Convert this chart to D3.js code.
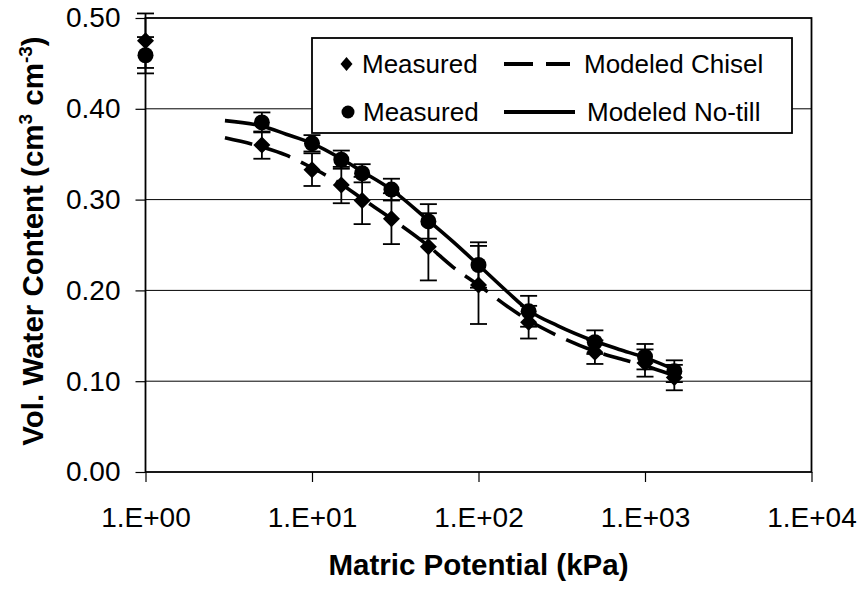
<!DOCTYPE html>
<html>
<head>
<meta charset="utf-8">
<script src="https://cdn.jsdelivr.net/npm/d3@7"></script>
<style>
  html, body { margin: 0; padding: 0; background: #fff; }
  svg { display: block; font-family: Arial, "Liberation Sans", sans-serif; }
</style>
</head>
<body>
<svg id="chart" width="863" height="589"></svg>
<script>
// ---- data ----
const potentials = [1, 5, 10, 15, 20, 30, 50, 100, 200, 500, 1000, 1500];
const chiselMeasured = [0.475, 0.360, 0.333, 0.316, 0.299, 0.279, 0.248, 0.206, 0.165, 0.132, 0.120, 0.104];
const chiselError    = [0.030, 0.015, 0.018, 0.020, 0.026, 0.028, 0.037, 0.043, 0.018, 0.013, 0.015, 0.014];
const notillMeasured = [0.459, 0.385, 0.362, 0.344, 0.329, 0.311, 0.276, 0.228, 0.177, 0.143, 0.127, 0.111];
const notillError    = [0.020, 0.011, 0.009, 0.010, 0.010, 0.012, 0.019, 0.025, 0.017, 0.013, 0.014, 0.012];

const modelPotentials = [3, 5, 7, 10, 15, 20, 30, 50, 70, 100, 150, 200, 300, 500, 700, 1000, 1500];
const chiselModel = [0.368, 0.358, 0.349, 0.335, 0.317, 0.301, 0.279, 0.249, 0.226, 0.206, 0.182, 0.167, 0.150, 0.133, 0.125, 0.117, 0.106];
const notillModel = [0.387, 0.381, 0.372, 0.362, 0.345, 0.331, 0.311, 0.277, 0.254, 0.228, 0.198, 0.178, 0.161, 0.144, 0.135, 0.126, 0.113];

const xTicks = [1, 10, 100, 1000, 10000];
const xTickLabels = ["1.E+00", "1.E+01", "1.E+02", "1.E+03", "1.E+04"];
const yTicks = [0, 0.1, 0.2, 0.3, 0.4, 0.5];
const yTickLabels = ["0.00", "0.10", "0.20", "0.30", "0.40", "0.50"];

(function () {
// ---- layout ----
const svg = d3.select("#chart");
const pL = 145.5, pR = 811.5, pT = 18, pB = 472;
const x = d3.scaleLog().domain([1, 10000]).range([pL, pR]);
const y = d3.scaleLinear().domain([0, 0.5]).range([pB, pT]);

// grid lines
svg.append("g").selectAll("line")
  .data(yTicks.filter(v => v > 0 && v < 0.5))
  .join("line")
  .attr("x1", pL).attr("x2", pR)
  .attr("y1", d => y(d)).attr("y2", d => y(d))
  .attr("stroke", "#000").attr("stroke-width", 1);

// plot frame
svg.append("rect")
  .attr("x", pL).attr("y", pT)
  .attr("width", pR - pL).attr("height", pB - pT)
  .attr("fill", "none").attr("stroke", "#000").attr("stroke-width", 1.8);

// axes
const yAxis = d3.axisLeft(y).tickValues(yTicks)
  .tickFormat((d, i) => yTickLabels[i]).tickSize(10).tickPadding(15);
const gy = svg.append("g").attr("transform", `translate(${pL},0)`).call(yAxis);
gy.select(".domain").remove();
gy.selectAll("line").attr("stroke", "#000").attr("stroke-width", 1.2);
gy.selectAll("text").attr("font-size", 28).attr("font-family", "Arial, 'Liberation Sans', sans-serif").attr("fill", "#000");

const xAxis = d3.axisBottom(x).tickValues(xTicks)
  .tickFormat((d, i) => xTickLabels[i]).tickSize(10).tickPadding(25);
const gx = svg.append("g").attr("transform", `translate(0,${pB})`).call(xAxis);
gx.select(".domain").remove();
gx.selectAll("line").attr("stroke", "#000").attr("stroke-width", 1.2);
gx.selectAll("text").attr("font-size", 28).attr("font-family", "Arial, 'Liberation Sans', sans-serif").attr("fill", "#000");

// axis titles
svg.append("text")
  .attr("x", (pL + pR) / 2).attr("y", 575)
  .attr("text-anchor", "middle")
  .attr("font-size", 29.5).attr("font-weight", "bold")
  .text("Matric Potential (kPa)");

const yt = svg.append("text")
  .attr("transform", "translate(43,241) rotate(-90)")
  .attr("text-anchor", "middle")
  .attr("font-size", 29.5).attr("font-weight", "bold");
yt.append("tspan").text("Vol. Water Content (cm");
yt.append("tspan").attr("dy", -11).attr("font-size", 19).text("3");
yt.append("tspan").attr("dy", 11).text(" cm");
yt.append("tspan").attr("dy", -11).attr("font-size", 19).text("-3");
yt.append("tspan").attr("dy", 11).text(")");

// model lines
const lineGen = d3.line().x(d => x(d[0])).y(d => y(d[1])).curve(d3.curveMonotoneX);
svg.append("path")
  .attr("d", lineGen(modelPotentials.map((p, i) => [p, chiselModel[i]])))
  .attr("fill", "none").attr("stroke", "#000").attr("stroke-width", 3.6)
  .attr("stroke-dasharray", "28,12");
svg.append("path")
  .attr("d", lineGen(modelPotentials.map((p, i) => [p, notillModel[i]])))
  .attr("fill", "none").attr("stroke", "#000").attr("stroke-width", 3.6);

// error bars
function errorBars(vals, errs) {
  const g = svg.append("g").attr("stroke", "#000").attr("stroke-width", 1.8);
  potentials.forEach((p, i) => {
    const cx = x(p), lo = y(vals[i] - errs[i]), hi = y(vals[i] + errs[i]);
    g.append("line").attr("x1", cx).attr("x2", cx).attr("y1", lo).attr("y2", hi);
    g.append("line").attr("x1", cx - 8.5).attr("x2", cx + 8.5).attr("y1", lo).attr("y2", lo);
    g.append("line").attr("x1", cx - 8.5).attr("x2", cx + 8.5).attr("y1", hi).attr("y2", hi);
  });
}
errorBars(chiselMeasured, chiselError);
errorBars(notillMeasured, notillError);

// markers
const diamond = (cx, cy, hw, hh) => `M${cx},${cy - hh}L${cx + hw},${cy}L${cx},${cy + hh}L${cx - hw},${cy}Z`;
svg.append("g").selectAll("path")
  .data(potentials.map((p, i) => [p, chiselMeasured[i]]))
  .join("path")
  .attr("d", d => diamond(x(d[0]), y(d[1]), 8.5, 8.5))
  .attr("fill", "#000");
svg.append("g").selectAll("circle")
  .data(potentials.map((p, i) => [p, notillMeasured[i]]))
  .join("circle")
  .attr("cx", d => x(d[0])).attr("cy", d => y(d[1])).attr("r", 8)
  .attr("fill", "#000");

// legend
const lg = svg.append("g");
lg.append("rect").attr("x", 312).attr("y", 38).attr("width", 480).attr("height", 95)
  .attr("fill", "#fff").attr("stroke", "#000").attr("stroke-width", 1.8);
lg.append("path").attr("d", diamond(346.5, 64, 6, 7)).attr("fill", "#000");
lg.append("circle").attr("cx", 348).attr("cy", 112).attr("r", 6.5).attr("fill", "#000");
lg.append("text").attr("x", 362).attr("y", 73).attr("font-size", 26).text("Measured");
lg.append("text").attr("x", 363).attr("y", 121).attr("font-size", 26).text("Measured");
lg.append("line").attr("x1", 504).attr("x2", 570).attr("y1", 64).attr("y2", 64)
  .attr("stroke", "#000").attr("stroke-width", 4).attr("stroke-dasharray", "29,13");
lg.append("line").attr("x1", 504).attr("x2", 575).attr("y1", 112).attr("y2", 112)
  .attr("stroke", "#000").attr("stroke-width", 4);
lg.append("text").attr("x", 584).attr("y", 73).attr("font-size", 26).text("Modeled Chisel");
lg.append("text").attr("x", 587).attr("y", 121).attr("font-size", 26).text("Modeled No-till");
})();
</script>
</body>
</html>
